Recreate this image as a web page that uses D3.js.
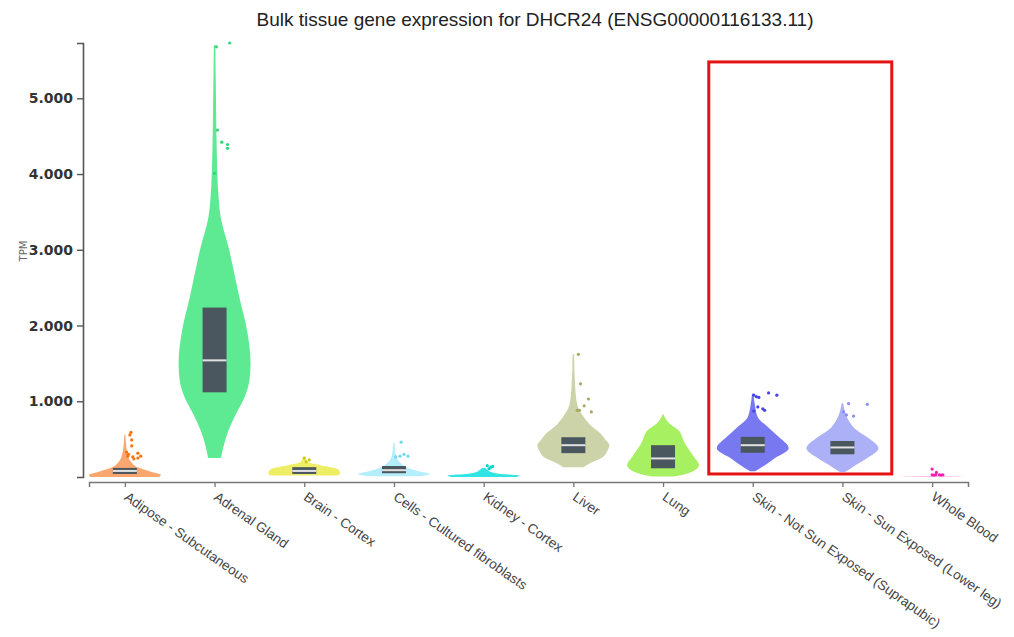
<!DOCTYPE html>
<html>
<head>
<meta charset="utf-8">
<script src="https://cdn.jsdelivr.net/npm/d3@7"></script>
<style>
body{margin:0;background:#fff;}
svg{display:block;font-family:"Liberation Sans",Arial,sans-serif;}
</style>
</head>
<body>
<div id="chart-container"></div>
<script>
const TITLE = "Bulk tissue gene expression for DHCR24 (ENSG00000116133.11)";
const Y_LABEL = "TPM";

const tissues = [
  "Adipose - Subcutaneous", "Adrenal Gland", "Brain - Cortex",
  "Cells - Cultured fibroblasts", "Kidney - Cortex", "Liver", "Lung",
  "Skin - Not Sun Exposed (Suprapubic)", "Skin - Sun Exposed (Lower leg)", "Whole Blood"
];
const fillColors = ["#f9a66f", "#5eea92", "#eeee66", "#b4eefa", "#33e4e4",
  "#cdd3a8", "#a6f062", "#7878f0", "#acb0f6", "#ffaee6"];
const pointColors = ["#f6740c", "#2ed872", "#caca10", "#72d8f0", "#10d2d2",
  "#a8a862", "#86d840", "#4646e6", "#8a8cee", "#f020b0"];

const yTicks = [1000, 2000, 3000, 4000, 5000];
const Y_MAX = 5730;

// violin profile: TPM levels and relative density (1 = widest)
const violinLevels = [
  [0, 30, 60, 90, 130, 200, 310, 450, 560],
  [250, 390, 620, 840, 1050, 1280, 1500, 1940, 2370, 3030, 3430, 3700, 4310, 4970, 5700],
  [20, 40, 80, 120, 150, 200, 270],
  [10, 40, 70, 110, 160, 220, 300, 450],
  [0, 20, 40, 60, 90, 120],
  [130, 180, 260, 340, 420, 500, 580, 660, 800, 950, 1200, 1620],
  [5, 50, 160, 265, 450, 620, 710, 830],
  [75, 160, 250, 380, 530, 660, 790, 950, 1100],
  [65, 130, 250, 380, 515, 620, 750, 880, 975],
  [0, 6, 14]
];
const violinDensity = [
  [0.95, 1.0, 0.8, 0.6, 0.35, 0.17, 0.07, 0.03, 0.015],
  [0.18, 0.24, 0.39, 0.6, 0.83, 0.97, 1.0, 0.9, 0.69, 0.39, 0.17, 0.11, 0.06, 0.04, 0.02],
  [0.9, 1.0, 0.98, 0.85, 0.5, 0.1, 0.03],
  [0.7, 1.0, 0.75, 0.45, 0.25, 0.12, 0.05, 0.02],
  [0.9, 1.0, 0.5, 0.25, 0.12, 0.05],
  [0.28, 0.46, 0.81, 0.94, 1.0, 0.88, 0.74, 0.53, 0.28, 0.11, 0.05, 0.02],
  [0.3, 0.7, 1.0, 0.86, 0.6, 0.42, 0.17, 0.01],
  [0.07, 0.35, 0.62, 1.0, 0.72, 0.42, 0.14, 0.06, 0.02],
  [0.07, 0.28, 0.69, 1.0, 0.72, 0.39, 0.17, 0.06, 0.02],
  [1.0, 0.6, 0.05]
];

// box (quartiles), null = not drawn
const boxQ1 = [40, 1118, 40, 50, null, 315, 115, 320, 300, null];
const boxMedian = [80, 1540, 80, 90, null, 420, 245, 420, 390, null];
const boxQ3 = [120, 2237, 130, 145, null, 525, 420, 530, 475, null];

// outliers: [TPM, jitter (-1..1 of half width)]
const outliers = [
  [[590, 0.17], [555, 0.14], [490, 0.19], [410, 0.19], [330, 0.05], [275, 0.08], [265, 0.22],
   [315, 0.36], [275, 0.44], [250, 0.36], [240, 0.25], [300, 0.1]],
  [[5680, 0.05], [5730, 0.42], [4580, 0.08], [4420, 0.2], [4390, 0.36], [4340, 0.36], [4010, 0.0]],
  [[250, 0.0], [225, 0.14], [200, 0.05]],
  [[460, 0.2], [265, 0.05], [275, 0.17], [300, 0.28], [275, 0.39]],
  [[150, 0.1], [130, 0.2], [110, 0.15], [140, 0.25]],
  [[1620, 0.14], [1230, 0.2], [1030, 0.42], [940, 0.3], [880, 0.11], [880, 0.17], [860, 0.5]],
  [],
  [[1080, 0.03], [1060, 0.1], [1050, 0.17], [1110, 0.44], [1080, 0.67], [925, 0.14], [900, 0.28],
   [880, 0.33], [870, 0.03]],
  [[970, 0.17], [960, 0.69], [860, 0.03], [820, 0.11], [805, 0.31]],
  [[105, 0.0], [60, 0.12], [30, 0.0], [30, 0.1], [30, 0.2], [30, 0.3], [25, 0.05], [25, 0.25]]
];

// highlighted tissues (red frame)
const highlight = ["Skin - Not Sun Exposed (Suprapubic)", "Skin - Sun Exposed (Lower leg)"];
const HIGHLIGHT_TOP = 5480;
const HIGHLIGHT_BOTTOM = 40;

const svgWidth = 1014;
const svgHeight = 637;

const svg = d3.select("#chart-container")
  .append("svg")
  .attr("width", svgWidth)
  .attr("height", svgHeight);

// scales
const scaleX = d3.scalePoint()
  .domain(tissues)
  .range([89, 968])
  .padding(0.4);

const scaleY = d3.scaleLinear()
  .domain([0, Y_MAX])
  .range([477, 43]);

const scaleW = d3.scaleLinear().domain([0, 1]).range([0, 36]);
const BOX_HALF = 12;

const dotFormat = d3.formatLocale({decimal: ",", thousands: ".", grouping: [3], currency: ["", ""]})
  .format(",.0f");

// title
svg.append("text")
  .attr("x", 535)
  .attr("y", 26)
  .attr("text-anchor", "middle")
  .attr("font-size", 19)
  .attr("fill", "#222")
  .text(TITLE);

// y axis
const yAxis = svg.append("g")
  .attr("transform", "translate(83,0)")
  .call(d3.axisLeft(scaleY).tickValues(yTicks).tickFormat(dotFormat).tickSize(6).tickSizeOuter(6));
yAxis.select(".domain").attr("stroke", "#555").attr("stroke-width", 1.6);
yAxis.selectAll(".tick line").attr("stroke", "#555").attr("stroke-width", 1.4);
yAxis.selectAll(".tick text")
  .attr("font-family", "'DejaVu Sans', sans-serif")
  .attr("font-size", 14)
  .attr("font-weight", "bold")
  .attr("fill", "#333")
  .attr("x", -10);

svg.append("text")
  .attr("transform", "translate(27,251) rotate(-90)")
  .attr("text-anchor", "middle")
  .attr("font-family", "'DejaVu Sans', sans-serif")
  .attr("font-size", 10)
  .attr("fill", "#666")
  .text(Y_LABEL);

// x axis
const xAxis = svg.append("g")
  .attr("transform", "translate(0,482)")
  .call(d3.axisBottom(scaleX).tickSize(5).tickSizeOuter(5));
xAxis.select(".domain").attr("stroke", "#777").attr("stroke-width", 1.5);
xAxis.selectAll(".tick line").attr("stroke", "#777").attr("stroke-width", 1.3);
xAxis.selectAll(".tick text")
  .attr("font-family", "'Liberation Sans', Arial, sans-serif")
  .attr("font-size", 13.6)
  .attr("fill", "#444")
  .attr("text-anchor", "start")
  .attr("y", 0)
  .attr("dy", 0)
  .attr("transform", "translate(-2,17) rotate(35)");

// violins
const violinArea = d3.area()
  .y(d => scaleY(d[0]))
  .x0(d => -scaleW(d[1]))
  .x1(d => scaleW(d[1]))
  .curve(d3.curveMonotoneY);

const groups = svg.selectAll(".violin")
  .data(tissues)
  .enter()
  .append("g")
  .attr("class", "violin")
  .attr("transform", d => `translate(${scaleX(d)},0)`);

groups.append("path")
  .attr("d", (d, i) => violinArea(violinLevels[i].map((v, k) => [v, violinDensity[i][k]])))
  .attr("fill", (d, i) => fillColors[i]);

groups.each(function(d, i) {
  d3.select(this).selectAll("circle")
    .data(outliers[i])
    .enter()
    .append("circle")
    .attr("cx", p => p[1] * scaleW(1))
    .attr("cy", p => scaleY(p[0]))
    .attr("r", 1.6)
    .attr("fill", pointColors[i]);

  if (boxQ1[i] !== null) {
    d3.select(this).append("rect")
      .attr("x", -BOX_HALF)
      .attr("width", BOX_HALF * 2)
      .attr("y", scaleY(boxQ3[i]))
      .attr("height", scaleY(boxQ1[i]) - scaleY(boxQ3[i]))
      .attr("fill", "#4b575e");
    d3.select(this).append("line")
      .attr("x1", -BOX_HALF)
      .attr("x2", BOX_HALF)
      .attr("y1", scaleY(boxMedian[i]))
      .attr("y2", scaleY(boxMedian[i]))
      .attr("stroke", "#e2e2e2")
      .attr("stroke-width", 2);
  }
});

// red highlight frame
const step = scaleX.step();
const hx0 = scaleX(highlight[0]) - step * 0.49;
const hx1 = scaleX(highlight[1]) + step * 0.55;
svg.append("rect")
  .attr("x", hx0)
  .attr("y", scaleY(HIGHLIGHT_TOP))
  .attr("width", hx1 - hx0)
  .attr("height", scaleY(HIGHLIGHT_BOTTOM) - scaleY(HIGHLIGHT_TOP))
  .attr("fill", "none")
  .attr("stroke", "#e31414")
  .attr("stroke-width", 3);
</script>
</body>
</html>
